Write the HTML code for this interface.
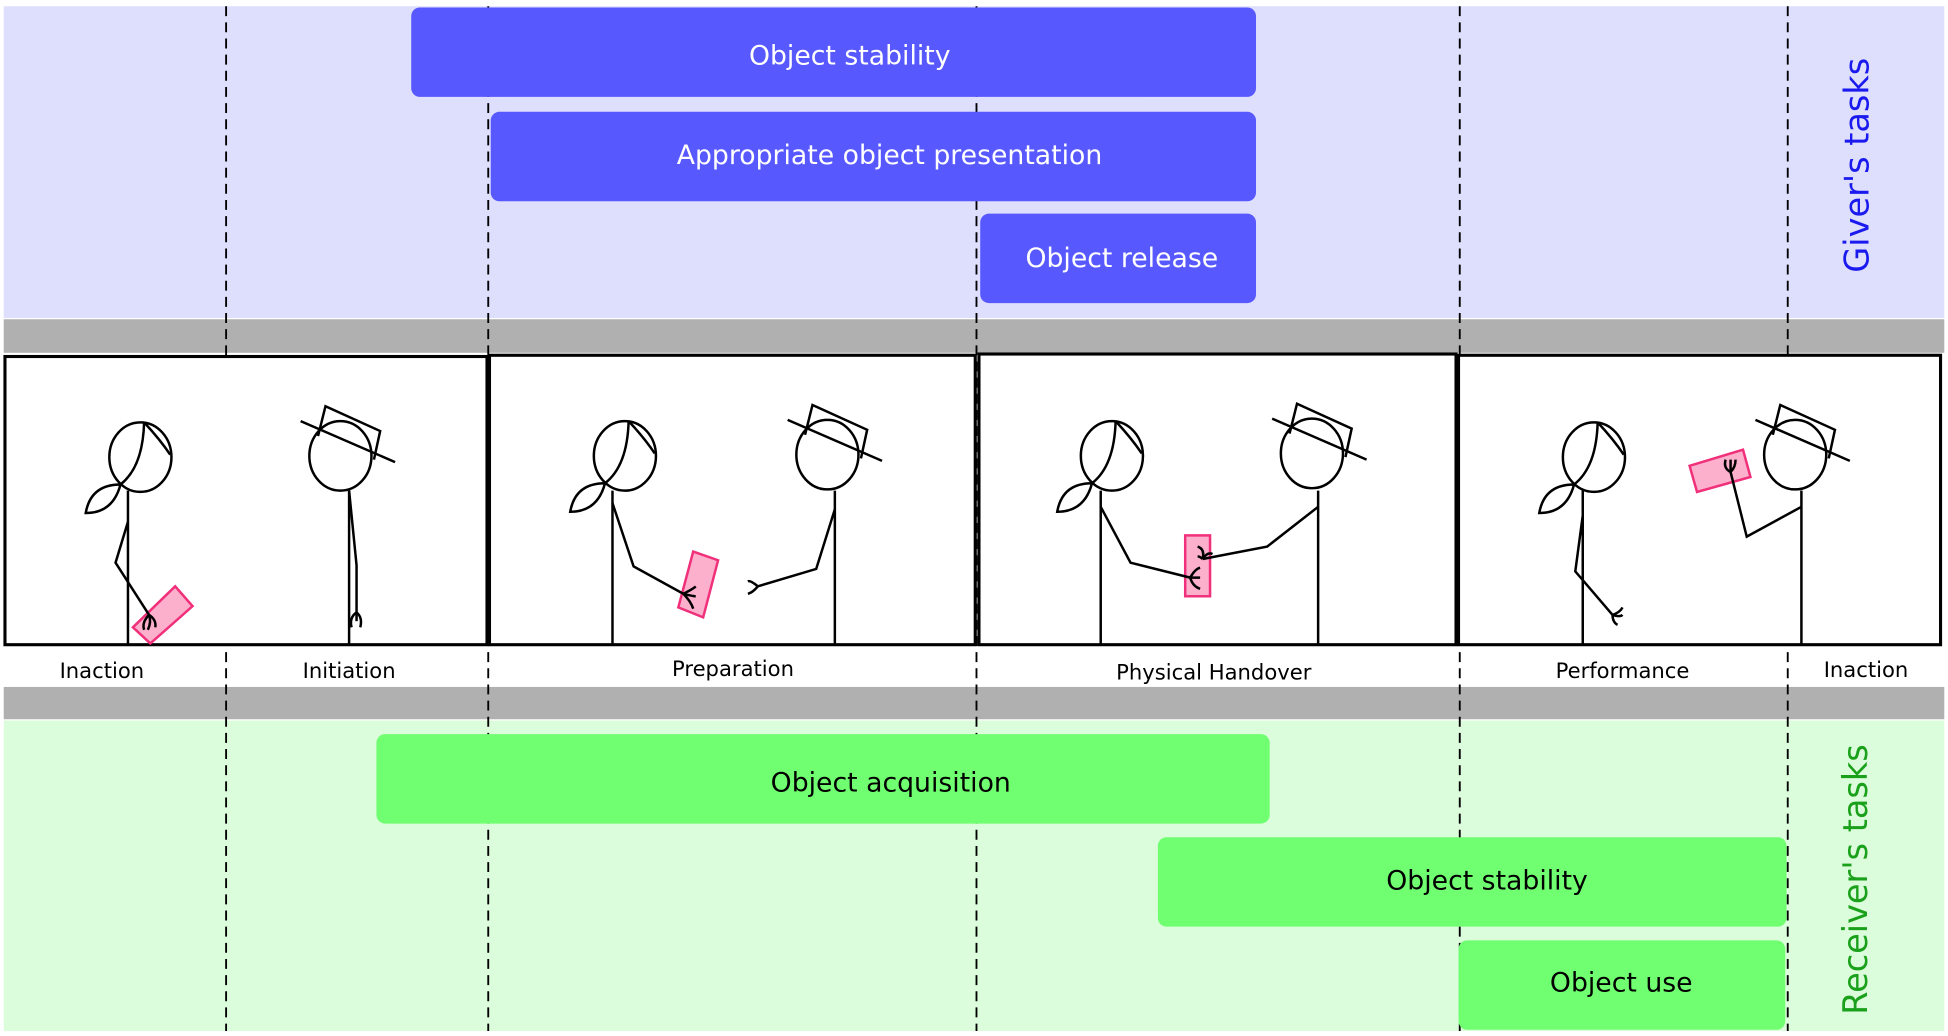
<!DOCTYPE html>
<html><head><meta charset="utf-8"><style>
html,body{margin:0;padding:0;background:#fff;}
svg{display:block;}
text{font-family:"DejaVu Sans","Liberation Sans",sans-serif;}
</style></head><body>
<svg width="1948" height="1036" viewBox="0 0 1568 834" preserveAspectRatio="none" xmlns="http://www.w3.org/2000/svg">
<defs>
<g id="woman" fill="none" stroke="#000" stroke-width="2">
  <ellipse cx="0" cy="0" rx="25" ry="28" fill="#fff"/>
  <path d="M3,-28 Q2,8 -16,22"/>
  <path d="M3,-28 Q16,-14 24,-2"/>
  <path d="M-16,22 Q-40,22 -44,45 Q-22,45 -16,22"/>
</g>
<g id="man" fill="none" stroke="#000" stroke-width="2">
  <ellipse cx="0" cy="0" rx="25" ry="28" fill="#fff"/>
  <polyline points="-18,-16 -12,-40 32,-20 27,3"/>
  <line x1="-32" y1="-28" x2="44" y2="5"/>
</g>
</defs>
<rect x="0" y="0" width="1568" height="834" fill="#fff"/>
<rect x="3" y="5" width="1562" height="251" fill="#dedefd"/>
<rect x="3" y="257" width="1562" height="27" fill="#b0b0b0"/>
<rect x="3" y="553" width="1562" height="26" fill="#b0b0b0"/>
<rect x="3" y="580" width="1562" height="250" fill="#dcfddc"/>

<g stroke="#000" stroke-width="1.5" stroke-dasharray="8,5">
<line x1="182" y1="5" x2="182" y2="830"/>
<line x1="393" y1="5" x2="393" y2="830"/>
<line x1="786" y1="5" x2="786" y2="830"/>
<line x1="1175" y1="5" x2="1175" y2="830"/>
<line x1="1439" y1="5" x2="1439" y2="830"/>
</g>

<g fill="#5858ff">
<rect x="331" y="6" width="680" height="72" rx="7"/>
<rect x="395" y="90" width="616" height="72" rx="7"/>
<rect x="789" y="172" width="222" height="72" rx="7"/>
</g>
<g fill="#fff" font-size="21.5" text-anchor="middle">
<text x="684" y="52">Object stability</text>
<text x="716" y="132">Appropriate object presentation</text>
<text x="903" y="215">Object release</text>
</g>
<g fill="#70ff70">
<rect x="303" y="591" width="719" height="72" rx="7"/>
<rect x="932" y="674" width="506" height="72" rx="7"/>
<rect x="1174" y="757" width="263" height="72" rx="7"/>
</g>
<g fill="#000" font-size="21.5" text-anchor="middle">
<text x="717" y="637">Object acquisition</text>
<text x="1197" y="716">Object stability</text>
<text x="1305" y="798">Object use</text>
</g>
<text transform="translate(1504,133) rotate(-90)" font-size="27" fill="#1a1aee" text-anchor="middle">Giver's tasks</text>
<text transform="translate(1503,708) rotate(-90)" font-size="27" fill="#1aa01a" text-anchor="middle">Receiver's tasks</text>

<g fill="#fff" stroke="#000" stroke-width="2.5">
<rect x="4" y="287" width="388" height="232"/>
<rect x="394" y="286" width="391" height="233"/>
<rect x="788" y="285" width="384" height="234"/>
<rect x="1174" y="286" width="388" height="233"/>
</g>

<g fill="none" stroke="#000" stroke-width="2">
<line x1="103" y1="395" x2="103" y2="519"/>
<line x1="281" y1="395" x2="281" y2="519"/>
<polygon points="107,505 141,472 155,488 121,518" fill="#fdb0cc" stroke="#f0307a"/>
<polyline points="103,420 93,453 120,495"/>
<path d="M120,495 q-6,6 -4,12 M120,495 q2,6 -1,12 M120,495 q6,4 5,10"/>
<polyline points="281,395 287,455 287,500"/>
<path d="M287,493 q-6,4 -4,12 M287,493 q5,4 3,12"/>
<line x1="493" y1="395" x2="493" y2="519"/>
<line x1="672" y1="395" x2="672" y2="519"/>
<polygon points="558,444 578,451 566,497 546,489" fill="#fdb0cc" stroke="#f0307a"/>
<polyline points="493,405 510,456 550,478"/>
<path d="M550,478 q8,-4 10,-6 M550,478 q8,2 10,2 M550,478 q6,6 8,12"/>
<polyline points="672,410 657,458 610,472"/>
<path d="M610,472 q-6,-5 -8,-4 M610,472 q-4,5 -8,6"/>
<line x1="886" y1="395" x2="886" y2="519"/>
<line x1="1061" y1="395" x2="1061" y2="519"/>
<rect x="954" y="431" width="20" height="49" fill="#fdb0cc" stroke="#f0307a"/>
<polyline points="886,408 910,453 958,465"/>
<path d="M958,465 q4,-7 8,-8 M958,465 q4,0 8,0 M958,465 q2,7 8,9"/>
<polyline points="1061,408 1020,440 968,450"/>
<path d="M968,450 q2,-8 -4,-10 M968,450 q4,-6 8,-4 M968,450 q-2,-2 -4,-2"/>
<line x1="1274" y1="395" x2="1274" y2="519"/>
<line x1="1450" y1="395" x2="1450" y2="519"/>
<polygon points="1360,375 1403,362 1409,384 1366,396" fill="#fdb0cc" stroke="#f0307a"/>
<polyline points="1450,408 1406,432 1393,380"/>
<path d="M1393,380 q-6,-3 -4,-10 M1393,380 q0,-6 0,-10 M1393,380 q4,-4 4,-10"/>
<polyline points="1274,415 1268,460 1298,495"/>
<path d="M1298,495 q6,-2 8,-6 M1298,495 q6,2 8,0 M1298,495 q0,6 4,8"/>
</g>
<use href="#woman" x="113" y="368"/>
<use href="#man" x="274" y="367"/>
<use href="#woman" x="503" y="367"/>
<use href="#man" x="666" y="366"/>
<use href="#woman" x="895" y="367"/>
<use href="#man" x="1056" y="365"/>
<use href="#woman" x="1283" y="368"/>
<use href="#man" x="1445" y="366"/>

<g fill="#000" font-size="17" text-anchor="middle">
<text x="82" y="546">Inaction</text>
<text x="281" y="546">Initiation</text>
<text x="590" y="544">Preparation</text>
<text x="977" y="547">Physical  Handover</text>
<text x="1306" y="546">Performance</text>
<text x="1502" y="545">Inaction</text>
</g>
</svg>
</body></html>
